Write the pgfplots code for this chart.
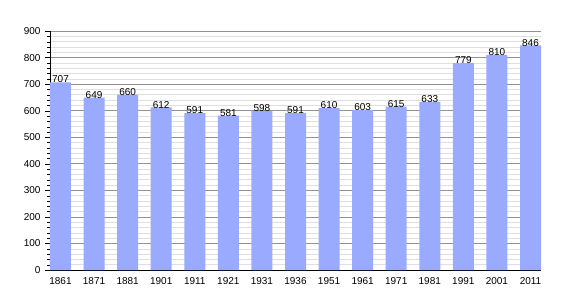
\documentclass[border=0pt]{standalone}
\usepackage{fontspec}
\setmainfont{Liberation Sans}
\usepackage{pgfplots}
\pgfplotsset{compat=1.18}
\definecolor{barblue}{RGB}{153,170,255}
\begin{document}
\begin{tikzpicture}
\begin{axis}[
  name=ax,
  scale only axis,
  width=491pt, height=239pt,
  xmin=-0.3125, xmax=14.3125,
  ymin=0, ymax=900,
  ytick={0,100,...,900},
  minor y tick num=4,
  xtick={0,...,14},
  xticklabels={1861,1871,1881,1901,1911,1921,1931,1936,1951,1961,1971,1981,1991,2001,2011},
  axis x line*=bottom,
  axis y line*=left,
  x axis line style={-},
  y axis line style={-},
  major x tick style={draw=none},
  tick align=outside,
  major tick length=5pt,
  minor tick length=3pt,
  tick style={black},
  ymajorgrids, yminorgrids,
  major grid style={gray!85, line width=0.6pt},
  minor grid style={gray!25, line width=0.5pt},
  tick label style={font=\fontsize{10}{11}\selectfont},
  /pgf/number format/assume math mode=true,
  ybar, bar width=21pt,
  bar shift=0pt,
  nodes near coords,
  nodes near coords style={font=\fontsize{10}{11}\selectfont, inner sep=1pt, yshift=-2pt},
  xticklabel style={yshift=1pt},
  yticklabel style={xshift=-1pt},
]
\addplot[fill=barblue, draw=none] coordinates {
(0,707) (1,649) (2,660) (3,612) (4,591) (5,581) (6,598) (7,591) (8,610) (9,603) (10,615) (11,633) (12,779) (13,810) (14,846)
};
\end{axis}
\path[use as bounding box] ([xshift=-50pt,yshift=-30pt]ax.south west) rectangle ++(570pt,300pt);
\end{tikzpicture}
\end{document}
